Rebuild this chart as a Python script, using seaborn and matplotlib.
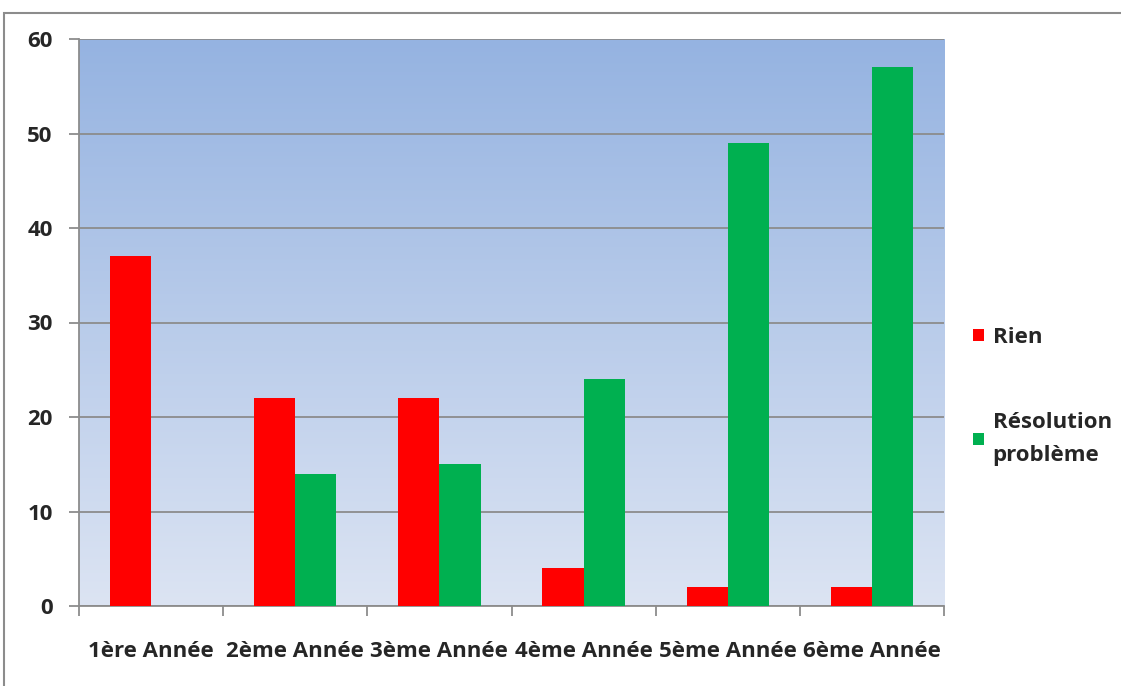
import numpy as np
import pandas as pd
import matplotlib.pyplot as plt
import seaborn as sns
from matplotlib.patches import Rectangle
from matplotlib.colors import LinearSegmentedColormap

# Data
annees = ["1ère Année", "2ème Année", "3ème Année", "4ème Année", "5ème Année", "6ème Année"]
rien = [37, 22, 22, 4, 2, 2]
resolution = [0, 14, 15, 24, 49, 57]
series = ["Rien", "Résolution\nproblème"]

df = pd.DataFrame({
    "annee": annees * 2,
    "valeur": rien + resolution,
    "serie": [series[0]] * 6 + [series[1]] * 6,
})

sns.set_style("white")
plt.rcParams["font.family"] = ["Open Sans", "DejaVu Sans"]
plt.rcParams["font.weight"] = "bold"

fig = plt.figure(figsize=(11.21, 6.86), dpi=100)
ax = fig.add_axes([79 / 1121, 1 - 606 / 686, 865 / 1121, 567 / 686])

# outer chart frame
fig.patches.append(Rectangle((4 / 1121, -0.01), 1.1, 1 - 13 / 686 + 0.01,
                             transform=fig.transFigure, fill=False,
                             edgecolor="#8c8c8c", linewidth=1.5))

# gradient background
cmap = LinearSegmentedColormap.from_list("bg", ["#dce4f3", "#95b3e1"])
grad = np.linspace(0, 1, 256).reshape(-1, 1)
ax.imshow(grad, cmap=cmap, aspect="auto", extent=[0, 1, 0, 1],
          transform=ax.transAxes, origin="lower", zorder=0)

sns.barplot(data=df, x="annee", y="valeur", hue="serie",
            palette=["#ff0000", "#00b050"], width=0.57, gap=0,
            saturation=1, linewidth=0, ax=ax)

ax.set_xlim(-0.5, 5.5)
ax.set_ylim(0, 60)
ax.set_yticks(range(0, 61, 10))
ax.yaxis.grid(True, color="#8c8c8c", linewidth=1.3)
ax.set_axisbelow(True)
for b in ax.patches:
    b.set_zorder(3)
    b.set_linewidth(0)

ax.set_xticks(range(6))
ax.set_xticklabels(annees, fontsize=16, fontweight="bold")
ax.set_xticks(np.arange(-0.5, 6, 1), minor=True)
ax.tick_params(axis="x", which="major", length=0, pad=25)
ax.tick_params(axis="x", which="minor", length=7, color="#8c8c8c", width=1.3)
ax.tick_params(axis="y", length=7, color="#8c8c8c", width=1.3, labelsize=16, pad=12)
for lab in ax.get_yticklabels():
    lab.set_fontweight("bold")
ax.tick_params(axis="y", left=True)
ax.tick_params(axis="x", which="minor", bottom=True)

ax.set_xlabel("")
ax.set_ylabel("")
for s in ["top", "right"]:
    ax.spines[s].set_visible(False)
for s in ["left", "bottom"]:
    ax.spines[s].set_color("#8c8c8c")
    ax.spines[s].set_linewidth(1.3)

leg = ax.legend(loc="center left", bbox_to_anchor=(1.01, 0.37), frameon=False,
                prop={"size": 16, "weight": "bold"}, handlelength=0.5,
                handleheight=0.5, handletextpad=0.4, labelspacing=2.9)
for h in leg.legend_handles:
    h.set_linewidth(0)
for t in leg.get_texts():
    t.set_linespacing(1.7)

fig.savefig("out.png", dpi=100)
